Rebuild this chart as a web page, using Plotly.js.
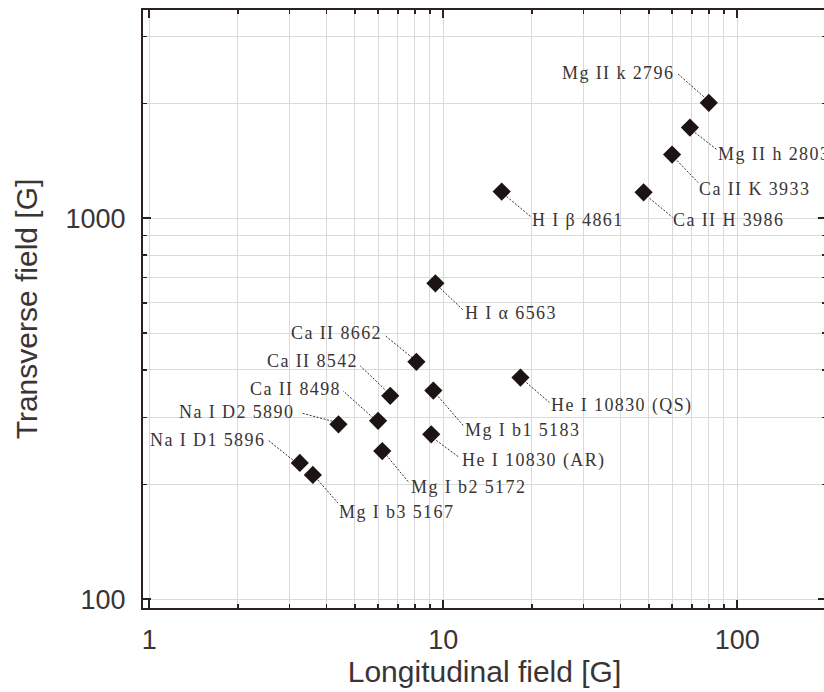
<!DOCTYPE html>
<html>
<head>
<meta charset="utf-8">
<script src="https://cdn.plot.ly/plotly-3.0.1.min.js"></script>
<style>
  html, body { margin: 0; padding: 0; overflow: hidden; background: #fff; }
  #chart { width: 830px; height: 692px; }
  .annotation-text { letter-spacing: 1.4px; }
</style>
</head>
<body>
<div id="chart"></div>
<script>
// ---- data ----
const lines = ['Mg II k 2796', 'Mg II h 2803', 'Ca II K 3933', 'Ca II H 3986', 'H I β 4861',
  'H I α 6563', 'Ca II 8662', 'Ca II 8542', 'Mg I b1 5183', 'He I 10830 (QS)', 'Ca II 8498',
  'Na I D2 5890', 'He I 10830 (AR)', 'Mg I b2 5172', 'Na I D1 5896', 'Mg I b3 5167'];
const longitudinal = [80, 69, 60, 48, 15.8, 9.4, 8.1, 6.6, 9.25, 18.3, 6.0, 4.4, 9.1, 6.2, 3.25, 3.6];
const transverse = [2010, 1730, 1470, 1170, 1175, 675, 420, 342, 353, 382, 294, 288, 271, 245, 228, 212];

const xTickVals = [1, 10, 100];
const yTickVals = [100, 1000];
const xMinorVals = [2,3,4,5,6,7,8,9,20,30,40,50,60,70,80,90,200];
const yMinorVals = [200,300,400,500,600,700,800,900,2000,3000];

// ---- label placement (pixel offsets from each point; y downward) ----
// [side, dx, dy, leaderStartX, leaderStartY, leaderEndX, leaderEndY]
const placement = [
  ['right', -35, -30, -5, -6, -31, -29],
  ['left', 28, 26, 5, 5, 27, 22],
  ['left', 27, 34, 5, 6, 26, 28],
  ['left', 29, 28, 6, 6, 29, 25],
  ['left', 30, 28, 5, 5, 29, 25],
  ['left', 30, 30, 5, 5, 28, 27],
  ['right', -34, -29, -4, -4, -31, -26],
  ['right', -32, -35, -3, -4, -30, -30],
  ['left', 32, 39, 5, 6, 30, 35],
  ['left', 31, 28, 6, 5, 29, 25],
  ['right', -37, -32, -5, -3, -35, -30],
  ['right', -44, -12, -6, -3, -36, -11],
  ['left', 31, 26, 5, 6, 28, 23],
  ['left', 29, 36, 4, 4, 27, 32],
  ['right', -35, -23, -7, -3, -32, -23],
  ['left', 26, 37, 5, 5, 25, 28]
];

const axisColor = '#2b2220';
const gridColor = '#dadada';
const textColor = '#3a3434';
const sans = '"Liberation Sans", Arial, sans-serif';
const serif = '"Liberation Serif", "Times New Roman", serif';

const W = 830, H = 692;
const margin = { l: 143, r: 4, t: 10, b: 84, pad: 0 };
const xRange = [-0.0214, 2.3017];
const yRange = [1.9772, 3.5467];
// pixels per decade, derived from the axis scale
const pxX = (W - margin.l - margin.r) / (xRange[1] - xRange[0]);
const pxY = (H - margin.t - margin.b) / (yRange[1] - yRange[0]);

// leader lines: from each point, offset in pixels, mapped through the log scales
const leadX = [], leadY = [];
lines.forEach((name, i) => {
  const p = placement[i];
  leadX.push(longitudinal[i] * Math.pow(10, p[3] / pxX), longitudinal[i] * Math.pow(10, p[5] / pxX), null);
  leadY.push(transverse[i] * Math.pow(10, -p[4] / pxY), transverse[i] * Math.pow(10, -p[6] / pxY), null);
});

const leaders = {
  type: 'scatter', mode: 'lines',
  x: leadX, y: leadY,
  line: { color: '#352d2d', width: 1, dash: '2px,1.6px' },
  hoverinfo: 'skip', connectgaps: false, cliponaxis: false
};

const points = {
  type: 'scatter',
  mode: 'markers',
  x: longitudinal,
  y: transverse,
  text: lines,
  marker: { symbol: 'diamond', size: 14, color: '#1c1313', line: { width: 0 } },
  hoverinfo: 'text',
  cliponaxis: false
};

const annotations = lines.map((name, i) => {
  const p = placement[i];
  return {
    xref: 'x', yref: 'y',
    x: Math.log10(longitudinal[i]), y: Math.log10(transverse[i]),
    text: name, showarrow: false,
    xanchor: p[0], yanchor: 'middle',
    xshift: p[1], yshift: -p[2],
    borderpad: 0, borderwidth: 0,
    font: { family: serif, size: 18, color: textColor }
  };
});

function axisBase() {
  return {
    type: 'log',
    showline: true, linecolor: axisColor, linewidth: 2,
    mirror: 'ticks',
    ticks: 'inside', ticklen: 8, tickwidth: 2, tickcolor: axisColor,
    showgrid: true, gridcolor: gridColor, gridwidth: 1,
    zeroline: false,
    tickfont: { family: sans, size: 27, color: textColor },
    tickmode: 'array'
  };
}

const xaxis = Object.assign(axisBase(), {
  range: xRange,
  tickvals: xTickVals,
  ticktext: xTickVals.map(String),
  ticklabelstandoff: 7,
  minor: { tickmode: 'array', tickvals: xMinorVals, ticks: 'inside', ticklen: 4, tickwidth: 1.5,
           tickcolor: axisColor, showgrid: true, gridcolor: gridColor, gridwidth: 1 },
  title: { text: 'Longitudinal field [G]', font: { family: sans, size: 30, color: textColor }, standoff: 5 }
});

const yaxis = Object.assign(axisBase(), {
  range: yRange,
  tickvals: yTickVals,
  ticktext: yTickVals.map(String),
  ticklabelstandoff: 10,
  minor: { tickmode: 'array', tickvals: yMinorVals, ticks: 'inside', ticklen: 4, tickwidth: 1.5,
           tickcolor: axisColor, showgrid: true, gridcolor: gridColor, gridwidth: 1 },
  title: { text: 'Transverse field [G]', font: { family: sans, size: 30, color: textColor }, standoff: 19 }
});

const layout = {
  width: W, height: H,
  margin: margin,
  paper_bgcolor: '#fff', plot_bgcolor: '#fff',
  showlegend: false,
  xaxis: xaxis, yaxis: yaxis,
  annotations: annotations
};

Plotly.newPlot('chart', [leaders, points], layout, { staticPlot: true, displayModeBar: false });
</script>
</body>
</html>
